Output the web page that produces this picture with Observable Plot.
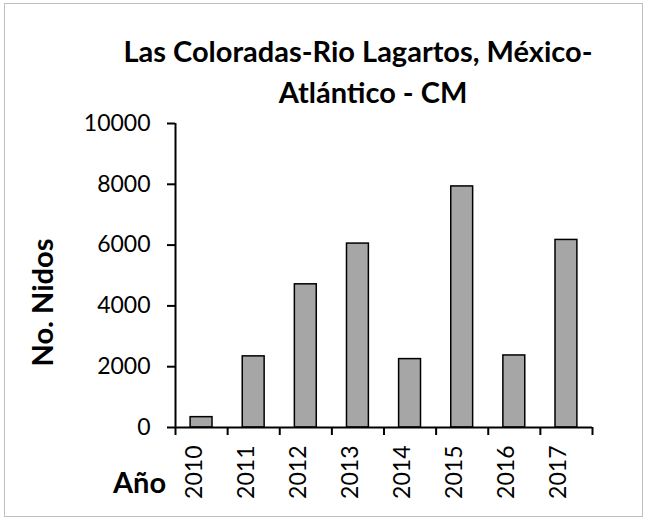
<!DOCTYPE html>
<html><head><meta charset="utf-8">
<script src="https://cdn.jsdelivr.net/npm/d3@7"></script>
<script src="https://cdn.jsdelivr.net/npm/@observablehq/plot@0.6"></script>
<style>
body{margin:0;background:#fff;}
#wrap{position:relative;width:647px;height:520px;}
#border{position:absolute;left:4px;top:3px;width:639px;height:514px;border:1px solid #bfbfbf;box-sizing:border-box;pointer-events:none;}
</style></head><body><div id="wrap"><div id="border"></div></div>
<script>
const years = ["2010", "2011", "2012", "2013", "2014", "2015", "2016", "2017"];
const nests = [340, 2340, 4710, 6050, 2250, 7930, 2370, 6170];
const yTicks = [0, 2000, 4000, 6000, 8000, 10000];
const titleLines = ["Las Coloradas-Rio Lagartos, México-", "Atlántico - CM"];
const yLabel = "No. Nidos";
const xLabel = "Año";

const data = years.map((y, i) => ({year: y, i, value: nests[i]}));
const font = "Lato, 'Open Sans', sans-serif";

const chart = Plot.plot({
  width: 647, height: 520,
  marginTop: 123, marginBottom: 93, marginLeft: 175, marginRight: 55,
  style: {fontFamily: font, fontSize: "24px", color: "#000", background: "transparent", overflow: "visible"},
  x: {type: "linear", domain: [0, years.length], axis: null},
  y: {domain: [0, 10000], axis: null},
  marks: [
    Plot.rectY(data, {x1: d => d.i + 0.29, x2: d => d.i + 0.71, y: "value", fill: "#a6a6a6", stroke: "#000", strokeWidth: 1.5}),
    Plot.axisY({ticks: yTicks, tickSize: 8, tickPadding: 17, tickFormat: d => String(d), fontSize: 23, label: null, strokeWidth: 2}),
    Plot.axisX({ticks: d3.range(years.length + 1), tickSize: 8, tickFormat: () => "", label: null, strokeWidth: 2}),
    Plot.ruleY([0], {stroke: "#000", strokeWidth: 2}),
    Plot.ruleX([0], {stroke: "#000", strokeWidth: 2}),
    Plot.text(data, {x: d => d.i + 0.5, text: "year", frameAnchor: "bottom", rotate: -90, textAnchor: "end", dy: 18, fontSize: 23}),
    Plot.text([yLabel], {frameAnchor: "left", textAnchor: "middle", dx: -132, dy: 27, rotate: -90, fontWeight: "bold", fontSize: 29}),
    Plot.text([xLabel], {frameAnchor: "bottom-left", textAnchor: "middle", dx: -36, dy: 65, fontWeight: "bold", fontSize: 29}),
    Plot.text([titleLines[0]], {frameAnchor: "top", textAnchor: "middle", dx: -26, dy: -82, fontWeight: "bold", fontSize: 29}),
    Plot.text([titleLines[1]], {frameAnchor: "top", textAnchor: "middle", dx: -11, dy: -41, fontWeight: "bold", fontSize: 29})
  ]
});
document.getElementById("wrap").appendChild(chart);
chart.style.position = "absolute";
chart.style.left = "0";
chart.style.top = "0";
</script>
</body></html>
